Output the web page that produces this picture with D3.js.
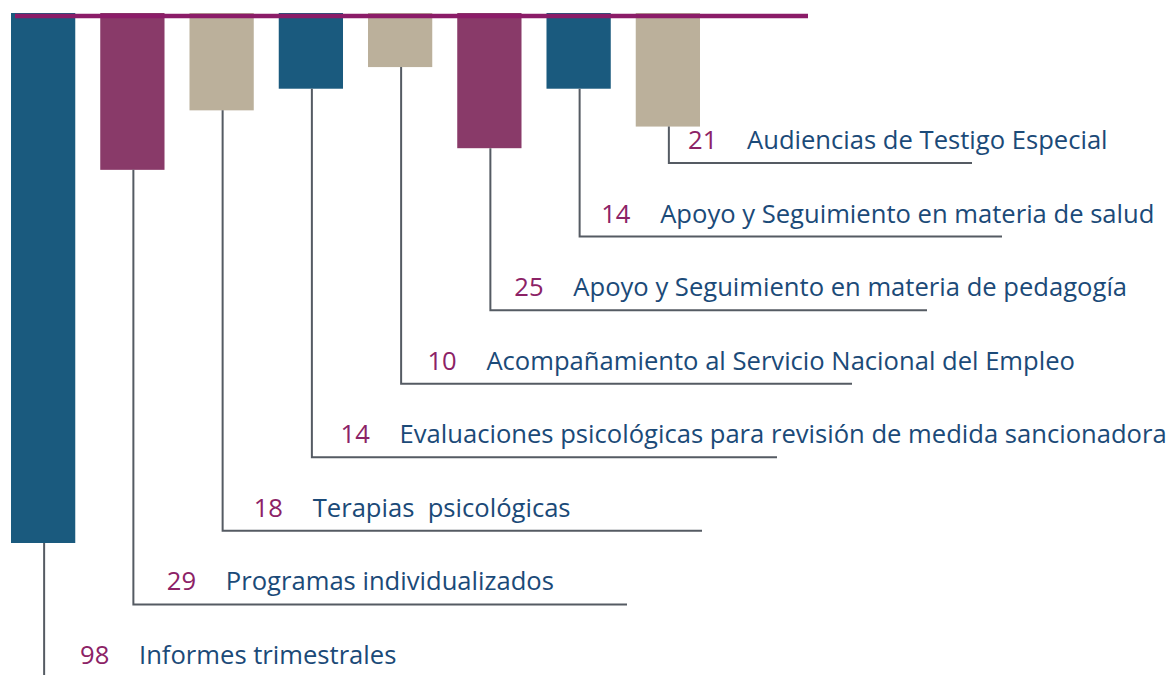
<!DOCTYPE html>
<html>
<head>
<meta charset="utf-8">
<script src="https://cdn.jsdelivr.net/npm/d3@7"></script>
<style>
  body { margin: 0; background: #fff; }
  svg { display: block; font-family: "Open Sans", sans-serif; }
</style>
</head>
<body>
<svg width="1172" height="675"></svg>
<script>
// data
const categories = [
  'Informes trimestrales',
  'Programas individualizados',
  'Terapias  psicológicas',
  'Evaluaciones psicológicas para revisión de medida sancionadora',
  'Acompañamiento al Servicio Nacional del Empleo',
  'Apoyo y Seguimiento en materia de pedagogía',
  'Apoyo y Seguimiento en materia de salud',
  'Audiencias de Testigo Especial'
];
const values = [98, 29, 18, 14, 10, 25, 14, 21];
const barColors = ['#1a5a7e', '#893a69', '#bbb09b', '#1a5a7e', '#bbb09b', '#893a69', '#1a5a7e', '#bbb09b'];

const data = categories.map((c, i) => ({ label: c, value: values[i], color: barColors[i], row: i }));

const svg = d3.select('svg');

const topY = 13;

const xScale = d3.scaleBand()
  .domain(d3.range(data.length))
  .range([11, 700])
  .paddingInner(0.28)
  .paddingOuter(0);

const yScale = d3.scaleLinear()
  .domain([0, d3.max(values)])
  .range([topY, 543]);

// label rows step up from the bottom of the page
const rowY = d3.scaleLinear().domain([0, 7]).range([664, 149]);
const numX = d3.scaleLinear().domain([0, 7]).range([80, 688]);
// leader lines grow with each row, last one is shorter
const leaderEnd = d3.scaleLinear().domain([1, 6, 7]).range([627, 1002, 972]);

const cx = d => xScale(d.row) + xScale.bandwidth() / 2 + 1;

// bars
svg.append('g')
  .selectAll('rect')
  .data(data)
  .enter().append('rect')
  .attr('x', d => xScale(d.row))
  .attr('y', topY)
  .attr('width', xScale.bandwidth())
  .attr('height', d => yScale(d.value) - topY)
  .attr('fill', d => d.color);

// top rule
svg.append('line')
  .attr('x1', 15)
  .attr('x2', 808)
  .attr('y1', 16)
  .attr('y2', 16)
  .attr('stroke', '#8b1c68')
  .attr('stroke-width', 4.5);

// leaders
const leaders = svg.append('g')
  .attr('fill', 'none')
  .attr('stroke', '#555b63')
  .attr('stroke-width', 2);

leaders.selectAll('path')
  .data(data)
  .enter().append('path')
  .attr('d', d => {
    const ly = rowY(d.row) + 14;
    const x = cx(d);
    const end = d.row === 0 ? x : leaderEnd(d.row);
    return `M${x},${yScale(d.value)}V${ly}H${end}`;
  });

// labels
const labels = svg.append('g')
  .selectAll('g')
  .data(data)
  .enter().append('g')
  .attr('transform', d => `translate(${numX(d.row)},${rowY(d.row)})`)
  .style('font-size', '25.6px');

labels.append('text')
  .attr('fill', '#8c2266')
  .text(d => d.value);

labels.append('text')
  .attr('x', 59)
  .attr('fill', '#1b4a78')
  .style('white-space', 'pre')
  .text(d => d.label);
</script>
</body>
</html>
